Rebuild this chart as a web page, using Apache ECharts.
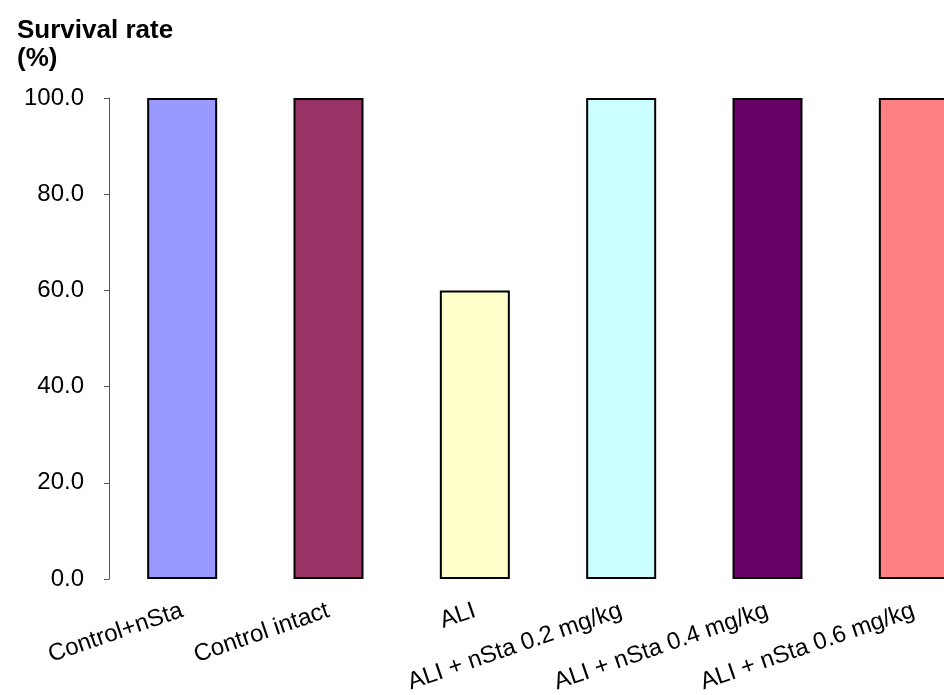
<!DOCTYPE html>
<html>
<head>
<meta charset="utf-8">
<script src="https://cdn.jsdelivr.net/npm/echarts@6/dist/echarts.min.js"></script>
<style>
  html, body { margin: 0; padding: 0; background: #fff; }
  #chart { width: 944px; height: 695px; }
</style>
</head>
<body>
<div id="chart"></div>
<script>
// Survival rate per treatment group
const groups = ['Control+nSta', 'Control intact', 'ALI', 'ALI + nSta 0.2 mg/kg', 'ALI + nSta 0.4 mg/kg', 'ALI + nSta 0.6 mg/kg'];
const survival = [100, 100, 60, 100, 100, 100];
const groupColors = ['#9999FF', '#993366', '#FFFFCC', '#CCFFFF', '#660066', '#FF8080'];
const yTicks = [0, 20, 40, 60, 80, 100];

const FONT = '"Liberation Sans", Arial, sans-serif';

const chart = echarts.init(document.getElementById('chart'), null, { renderer: 'canvas' });

chart.setOption({
  animation: false,
  backgroundColor: '#ffffff',
  title: {
    text: 'Survival rate\n(%)',
    left: 12,
    top: 12,
    textStyle: { fontFamily: FONT, fontSize: 26, fontWeight: 'bold', color: '#000', lineHeight: 28 }
  },
  grid: { left: 109, right: -43, top: 98, bottom: 116, containLabel: false, outerBoundsMode: 'none' },
  xAxis: {
    type: 'category',
    data: groups,
    axisLine: { show: false },
    axisTick: { show: false },
    axisLabel: {
      interval: 0,
      rotate: 19,
      margin: 31,
      fontFamily: FONT,
      fontSize: 24,
      color: '#000'
    }
  },
  yAxis: {
    type: 'value',
    min: yTicks[0],
    max: yTicks[yTicks.length - 1],
    interval: yTicks[1] - yTicks[0],
    splitLine: { show: false },
    axisLine: { show: true, lineStyle: { color: '#555', width: 1 } },
    axisTick: { show: true, length: 5, lineStyle: { color: '#555' } },
    axisLabel: {
      margin: 25,
      fontFamily: FONT,
      fontSize: 24,
      color: '#000',
      formatter: v => v.toFixed(1)
    }
  },
  series: [{
    type: 'bar',
    barWidth: 70,
    data: survival.map((v, i) => ({
      value: v,
      itemStyle: { color: groupColors[i], borderColor: '#000', borderWidth: 2 }
    }))
  }]
});
</script>
</body>
</html>
